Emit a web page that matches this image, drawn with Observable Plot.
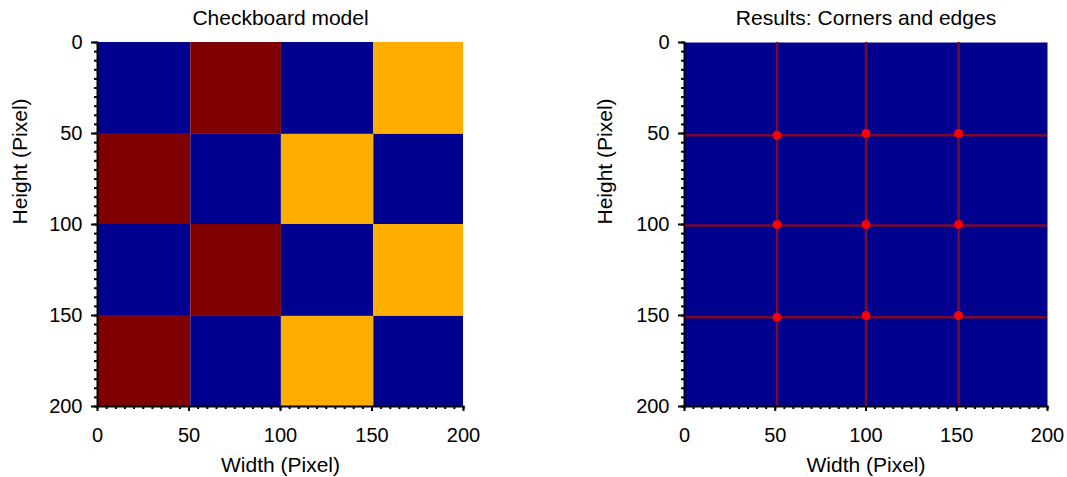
<!DOCTYPE html>
<html>
<head>
<meta charset="utf-8">
<script src="https://cdn.jsdelivr.net/npm/d3@7"></script>
<script src="https://cdn.jsdelivr.net/npm/@observablehq/plot@0.6"></script>
<style>
  html, body { margin: 0; padding: 0; background: #ffffff; }
  #wrap { display: flex; width: 1067px; height: 477px; }
  svg { display: block; }
</style>
</head>
<body>
<div id="wrap"></div>
<script>
// ---- data ----
const titles = ["Checkboard model", "Results: Corners and edges"];
const xLabel = "Width (Pixel)";
const yLabel = "Height (Pixel)";
const majorTicks = [0, 50, 100, 150, 200];
const minorTicks = d3.range(0, 201, 5);
const axisDomain = [0, 200];

// checkerboard cell boundaries (pixels) and class of each cell (row-major, top to bottom)
const cellEdgesX = [0, 51, 100.5, 151, 200];
const cellEdgesY = [0, 50.5, 100, 150.5, 200];
const boardClasses = [
  [0, 1, 0, 2],
  [1, 0, 2, 0],
  [0, 1, 0, 2],
  [1, 0, 2, 0]
];
const classNames = [0, 1, 2];

// detected edges and corners
const edgeLinesX = [51, 100, 151];
const edgeLinesY = [51, 100.5, 151];
const cornerX = [51, 100, 151, 51, 100, 151, 51, 100, 151];
const cornerY = [51, 50, 50, 100, 100, 100, 151, 150, 150];

// ---- styles ----
const BLUE = "#00008f", DARKRED = "#800000", ORANGE = "#ffae00";
const FONT = "'Liberation Sans', Arial, Helvetica, sans-serif";

const cells = [];
boardClasses.forEach((row, i) => row.forEach((c, j) => cells.push({
  x1: cellEdgesX[j], x2: cellEdgesX[j + 1], y1: cellEdgesY[i], y2: cellEdgesY[i + 1], c
})));

function axesMarks(title, labelDx) {
  return [
    Plot.axisX(majorTicks, {tickSize: 5, tickPadding: 16, strokeWidth: 2, label: null, fontSize: 20}),
    Plot.axisX(minorTicks, {tickSize: 3, strokeWidth: 2, fill: "none", label: null}),
    Plot.axisY(majorTicks, {tickSize: 6, tickPadding: 9, strokeWidth: 2, label: null, fontSize: 20}),
    Plot.axisY(minorTicks, {tickSize: 3, strokeWidth: 2, fill: "none", label: null}),
    Plot.frame({anchor: "left", strokeWidth: 2}),
    Plot.frame({anchor: "bottom", strokeWidth: 2}),
    Plot.text([title], {text: d => d, frameAnchor: "top", lineAnchor: "top", dy: -32, fontSize: 21}),
    Plot.text([xLabel], {text: d => d, frameAnchor: "bottom", lineAnchor: "top", dy: 51, fontSize: 21}),
    Plot.text([yLabel], {text: d => d, frameAnchor: "left", lineAnchor: "top", rotate: -90, dx: labelDx, fontSize: 21})
  ];
}

const common = {
  height: 477,
  marginTop: 42,
  marginBottom: 71,
  x: {domain: axisDomain},
  y: {domain: axisDomain, reverse: true},
  style: {fontFamily: FONT, fontSize: "20px", color: "#000", background: "#fff", overflow: "visible"}
};

const left = Plot.plot({
  ...common,
  width: 533,
  marginLeft: 97,
  marginRight: 70,
  color: {type: "ordinal", domain: classNames, range: [BLUE, DARKRED, ORANGE]},
  marks: [
    Plot.rect(cells, {x1: "x1", x2: "x2", y1: "y1", y2: "y2", fill: "c"}),
    ...axesMarks(titles[0], -85)
  ]
});

const right = Plot.plot({
  ...common,
  width: 534,
  marginLeft: 151,
  marginRight: 20,
  marks: [
    Plot.frame({fill: BLUE, stroke: null}),
    Plot.ruleX(edgeLinesX, {stroke: "#7a0a2c", strokeWidth: 2.5}),
    Plot.ruleY(edgeLinesY, {stroke: "#7a0a2c", strokeWidth: 2.5}),
    Plot.dot(cornerX, {x: cornerX, y: cornerY, r: 4.5, fill: "#ff0000", stroke: null}),
    ...axesMarks(titles[1], -87)
  ]
});

document.getElementById("wrap").append(left, right);
</script>
</body>
</html>
